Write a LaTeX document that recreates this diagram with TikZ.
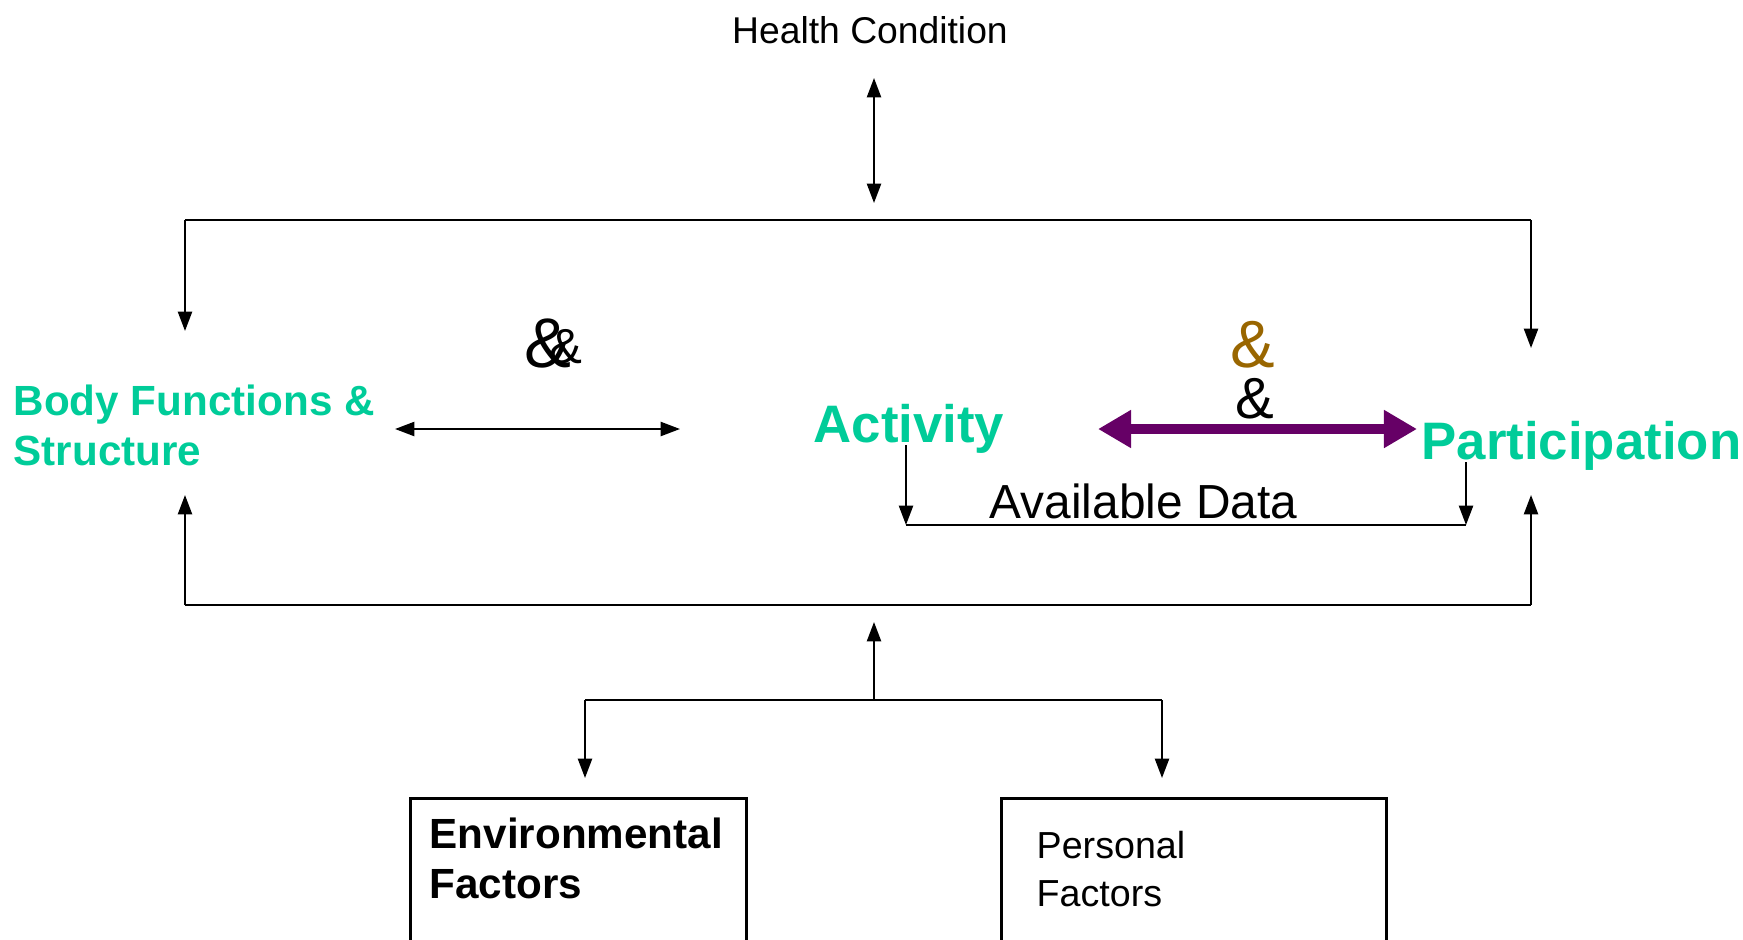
\documentclass[tikz,border=0pt]{standalone}
\usepackage{fontspec}
\setmainfont{Liberation Sans}
\usetikzlibrary{positioning,arrows.meta}

\definecolor{icfgreen}{RGB}{0,204,153}
\definecolor{icfpurple}{RGB}{102,0,102}
\definecolor{icfbrown}{RGB}{153,102,0}

\begin{document}
\begin{tikzpicture}[%
	x=0.01cm, y=-0.01cm,
	plain text/.style={
		inner sep=0pt,
		anchor=base west,
		align=left
	},
	domain text/.style={
		plain text,
		text=icfgreen,
		font=\bfseries\fontsize{15pt}{18pt}\selectfont
	},
	factor box/.style={
		rectangle,
		draw,
		line width=0.8pt,
		minimum height=2cm,
		inner sep=0pt,
		anchor=north west
	},
	amp/.style={
		inner sep=0pt,
		text depth=0pt,
		anchor=base
	},
	bus/.style={line width=0.8pt},
	link/.style={line width=0.6pt,-{Triangle[length=5.5pt,width=4pt]}},
	both link/.style={line width=0.6pt,{Triangle[length=5.5pt,width=4pt]}-{Triangle[length=5.5pt,width=4pt]}},
]
	\path[use as bounding box, clip] (0,0) rectangle (1743,939);

	\node[plain text, anchor=base, font=\fontsize{10.6pt}{13pt}\selectfont] (health) at (870,43) {Health Condition};
	% multi-line nodes sit on their last line
	\node[domain text, font=\bfseries\fontsize{12pt}{14.2pt}\selectfont] (body) at (13,465) {Body Functions \&\\Structure};
	\node[domain text] (act) at (813,442) {Activity};
	\node[domain text] (part) at (1421,459) {Participation};
	\node[plain text, font=\fontsize{13.6pt}{16pt}\selectfont] (avail) at (989,518) {Available Data};

	\node[amp, font=\fontsize{20pt}{24pt}\selectfont] (ampa) at (548,367) {\&};
	\node[amp, font=\fontsize{14pt}{17pt}\selectfont] (ampb) at (566,363) {\&};
	\node[amp, text=icfbrown, font=\fontsize{19pt}{23pt}\selectfont] (ampc) at (1253,367) {\&};
	\node[amp, font=\fontsize{16.5pt}{20pt}\selectfont] (ampd) at (1255,418) {\&};

	\node[factor box, minimum width=3.36cm] (envbox) at (409,797) {};
	\node[factor box, minimum width=3.85cm] (persbox) at (1000,797) {};
	\node[plain text, font=\bfseries\fontsize{12pt}{14.2pt}\selectfont] (env) at (429,898) {Environmental\\Factors};
	\node[plain text, font=\fontsize{10.7pt}{13.4pt}\selectfont] (pers) at (1036,906) {Personal\\Factors};

	% corners and arrow ends
	\coordinate (tl) at (185,220);
	\coordinate (tr) at (1531,220);
	\coordinate (bl) at (185,605);
	\coordinate (br) at (1531,605);
	\coordinate (hcup) at (874,78);
	\coordinate (hcdown) at (874,203);
	\coordinate (bodyin) at (185,331);
	\coordinate (partin) at (1531,348);
	\coordinate (bodyup) at (185,495);
	\coordinate (partup) at (1531,495);
	\coordinate (ctxup) at (874,622);
	\coordinate (ctxmid) at (874,700);
	\coordinate (envl) at (585,700);
	\coordinate (persr) at (1162,700);
	\coordinate (envin) at (585,778);
	\coordinate (persin) at (1162,778);
	\coordinate (bodyr) at (395,429);
	\coordinate (actl) at (680,429);
	\coordinate (actr) at (1098,429);
	\coordinate (partl) at (1417,429);
	\coordinate (actout) at (906,445);
	\coordinate (actdat) at (906,525);
	\coordinate (partout) at (1466,462);
	\coordinate (partdat) at (1466,525);

	\draw[both link] (hcup) -- (hcdown);
	\draw[bus] (tl) -- (tr);
	\draw[link] (tl) -- (bodyin);
	\draw[link] (tr) -- (partin);
	\draw[bus] (bl) -- (br);
	\draw[link] (bl) -- (bodyup);
	\draw[link] (br) -- (partup);
	\draw[link] (ctxmid) -- (ctxup);
	\draw[bus] (envl) -- (persr);
	\draw[link] (envl) -- (envin);
	\draw[link] (persr) -- (persin);
	\draw[both link] (bodyr) -- (actl);
	\draw[line width=2.6pt, icfpurple, {Triangle[length=9.4pt,width=10.2pt]}-{Triangle[length=9.4pt,width=10.2pt]}] (actr) -- (partl);
	\draw[link] (actout) -- (actdat);
	\draw[link] (partout) -- (partdat);
	\draw[bus] (actdat) -- (partdat);
\end{tikzpicture}
\end{document}
